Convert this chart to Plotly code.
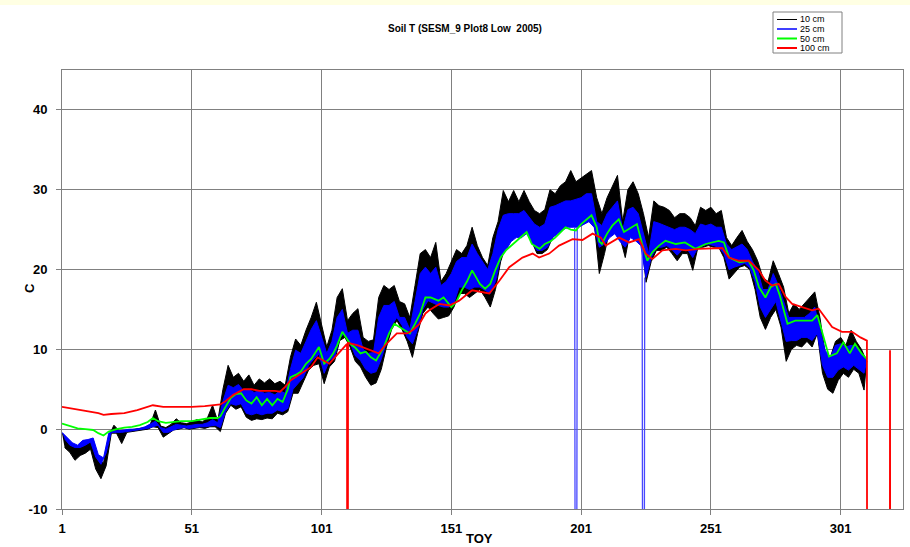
import plotly.graph_objects as go

title_text = "Soil T (SESM_9 Plot8 Low  2005)"
x_ticks = [1, 51, 101, 151, 201, 251, 301]
y_ticks = [-10, 0, 10, 20, 30, 40]
series_names = ["10 cm", "25 cm", "50 cm", "100 cm"]
series_colors = ["#000000", "#0000FF", "#00FF00", "#FF0000"]

# 10 cm: daily highs on odd days (1,3,...,311) and lows on even days (2,...,310)
t10_hi = [
    -0.5, -1.3, -2.0, -2.3, -1.5, -1.5, -1.3, -4.0, -4.2, -0.9,
    0.5, -0.2, -0.2, -0.1, 0.0, 0.1, 0.2, 0.6, 2.4, 0.4,
    0.2, 0.6, 1.3, 0.8, 0.7, 0.9, 1.2, 0.9, 1.4, 3.0,
    1.0, 5.0, 8.0, 6.5, 7.0, 6.0, 6.8, 5.5, 6.3, 5.8,
    6.3, 5.7, 6.0, 5.5, 9.0, 11.3, 10.5, 12.4, 14.0, 15.9,
    13.0, 10.3, 12.4, 16.5, 17.6, 13.6, 14.5, 15.1, 11.5, 11.0,
    11.2, 16.5, 18.0, 17.5, 18.0, 16.0, 15.7, 14.0, 18.0, 22.0,
    22.5, 21.5, 23.4, 18.5, 19.5, 21.0, 22.5, 22.0, 23.0, 25.3,
    23.0, 21.5, 20.5, 24.0, 26.0, 29.9, 28.5, 29.9, 28.5, 29.9,
    28.5, 27.4, 27.0, 27.5, 30.0, 29.5, 30.5, 31.0, 32.4, 31.0,
    31.5, 32.0, 32.4, 29.0, 27.0, 29.0, 30.5, 31.8, 26.0, 30.0,
    31.0, 29.5, 27.0, 24.0, 28.6, 28.0, 27.8, 27.4, 26.5, 27.0,
    27.0, 26.5, 25.5, 27.8, 27.4, 27.8, 27.0, 27.4, 24.0, 23.0,
    24.0, 24.9, 23.5, 22.5, 21.1, 19.0, 18.5, 21.1, 19.5, 17.8,
    14.5, 15.7, 15.0, 15.7, 16.5, 17.2, 14.0, 9.5, 9.0, 11.0,
    11.5, 10.5, 12.4, 11.0, 10.0, 8.5,
]
t10_lo = [
    -2.3, -2.9, -3.9, -3.3, -3.0, -2.5, -5.0, -6.2, -4.6, -0.5,
    -0.5, -1.8, -0.4, -0.3, -0.2, -0.1, 0.0, 0.3, 0.2, -1.0,
    -0.6, -0.1, 0.0, 0.2, 0.0, 0.1, 0.2, 0.1, 0.3, 0.3,
    -0.3, 2.0, 3.0, 2.5, 2.8, 1.5, 1.1, 1.3, 1.2, 1.4,
    1.3, 2.0, 1.8, 2.2, 4.5, 4.5, 6.0, 7.4, 8.0, 8.2,
    5.7, 7.8, 8.5, 11.1, 11.5, 10.3, 8.5, 7.8, 6.5, 5.5,
    5.8, 7.5, 10.3, 12.5, 13.6, 12.5, 11.0, 9.0, 12.0, 14.5,
    15.3, 14.5, 13.8, 14.0, 14.2, 15.3, 17.0, 17.0, 16.5, 17.0,
    17.5, 16.5, 15.3, 17.5, 21.0, 23.0, 24.0, 24.5, 24.0, 25.0,
    23.5, 22.0, 22.0, 22.5, 24.0, 25.0, 25.3, 26.0, 26.5, 26.0,
    27.0, 27.4, 26.0, 19.5, 22.0, 25.0, 25.3, 24.0, 21.5, 25.0,
    25.3, 24.5, 18.4, 21.0, 22.4, 22.4, 22.8, 22.0, 21.1, 22.0,
    22.0, 19.9, 22.8, 22.8, 23.0, 22.8, 22.8, 21.5, 18.8, 19.5,
    20.3, 20.5, 20.0, 17.5, 14.0, 12.5, 14.0, 15.0, 12.8, 8.5,
    10.0, 10.5, 10.3, 11.0, 10.3, 12.0, 7.0, 5.0, 4.5, 6.1,
    7.0, 6.5, 7.5, 7.0, 4.9,
]

# 25 cm (-99 = logger dropout)
t25_hi = [
    -0.4, -1.0, -1.7, -2.0, -1.4, -1.3, -1.1, -3.2, -3.6, -0.5,
    -0.2, -0.2, -0.1, 0.0, 0.0, 0.1, 0.3, 0.6, 1.0, 0.2,
    0.0, 0.3, 0.6, 0.5, 0.4, 0.5, 0.6, 0.6, 0.8, 1.2,
    0.8, 3.5, 5.5, 5.2, 5.6, 4.8, 5.0, 4.6, 4.8, 4.5,
    4.6, 4.3, 4.8, 4.5, 7.5, 9.9, 9.5, 11.0, 12.5, 13.6,
    11.5, 9.5, 11.0, 14.0, 15.0, 12.0, 12.4, 12.4, 10.0, 9.5,
    9.6, 14.0, 15.5, 15.5, 16.0, 14.0, 14.0, 12.5, 16.0, 19.5,
    20.3, 19.5, 20.3, 18.0, 18.5, 19.5, 21.0, 21.5, 21.5, 23.2,
    22.0, 21.0, 20.0, 22.0, 25.0, 26.8, 27.0, 27.0, 27.0, 27.4,
    26.5, 25.7, 25.3, 25.7, 27.8, 28.0, 28.3, 28.6, 28.6, -99,
    29.0, 29.5, 29.5, 26.0, 25.5, 27.0, 27.8, 28.6, 25.0, 27.5,
    27.8, 27.0, -99, 22.0, 26.0, 25.8, 25.5, 25.3, 25.0, 25.3,
    25.3, 25.0, 24.5, 25.7, 25.5, 25.7, 25.3, 25.3, 23.2, 22.5,
    22.8, 23.2, 22.5, 21.0, 19.9, 17.5, 17.5, 19.5, 18.0, 16.0,
    14.0, 14.0, 14.0, 14.0, 14.5, 15.3, 12.5, 9.9, 9.0, 10.5,
    10.7, 10.3, 10.5, 10.3, 9.5, 8.5,
]
t25_lo = [
    -1.2, -2.0, -2.3, -2.3, -2.0, -1.6, -3.5, -4.4, -3.0, -0.4,
    -0.4, -0.4, -0.3, -0.2, -0.1, 0.0, 0.1, 0.3, 0.5, -0.4,
    -0.4, -0.1, 0.1, 0.2, 0.1, 0.2, 0.3, 0.3, 0.4, 0.5,
    0.2, 2.2, 3.2, 3.0, 3.2, 2.0, 1.8, 2.0, 1.8, 2.0,
    2.0, 2.4, 2.2, 2.6, 5.0, 5.7, 6.5, 8.0, 8.8, 9.4,
    7.0, 8.6, 9.0, 11.5, 12.0, 10.8, 9.2, 8.6, 7.5, 7.0,
    7.2, 8.8, 11.0, 13.0, 14.0, 13.0, 11.5, 10.7, 12.5, 15.0,
    16.1, 15.8, 15.5, 15.3, 15.3, 15.8, 17.8, 17.8, 17.5, 17.8,
    17.8, 17.4, 17.0, 18.5, 21.5, 22.4, 23.5, 24.0, 24.0, 24.5,
    23.5, 22.4, 22.4, 22.8, 24.0, 24.5, 25.0, 25.3, 25.3, 25.3,
    25.7, 26.0, 25.3, 22.8, 23.2, 24.0, 24.5, 23.5, 22.8, 24.0,
    23.6, 23.0, 19.0, 21.5, 22.8, 22.8, 23.0, 22.5, 21.8, 22.5,
    22.5, 21.5, 22.8, 23.0, 23.2, 23.0, 22.8, 22.0, 20.0, 20.3,
    20.5, 20.8, 20.2, 18.5, 15.3, 14.0, 15.0, 16.0, 13.5, 11.0,
    11.1, 11.1, 11.5, 11.5, 11.1, 12.0, 8.0, 6.5, 6.5, 7.4,
    7.8, 7.4, 8.0, 7.5, 7.0,
]

# 50 cm
t50_day = [1, 4, 7, 10, 13, 15, 17, 19, 22, 25, 28, 31, 34, 36, 38, 41, 44, 47, 51, 55,
           58, 61, 62, 64, 66, 68, 70, 72, 74, 76, 78, 80, 82, 84, 86, 88, 89, 91, 93, 95,
           97, 100, 102, 104, 105.5, 107, 109, 112, 114, 116, 118, 120, 122, 125, 127, 129,
           131, 133, 135, 137, 139, 141, 143, 146, 148, 151, 153, 155, 157, 159, 162, 164,
           166, 168, 170, 172, 174, 176, 178, 180, 182, 185, 187, 189, 191, 193, 195, 197,
           199, 201, 203, 205, 207, 208, 209, 211, 213, 215.5, 217.5, 220.5, 222.5, 224.5,
           226.5, 228.5, 231, 233.5, 237.5, 241, 245, 249, 254, 256, 258, 262, 265.5, 267.5,
           269.5, 272, 274, 276, 277.5, 279, 280.5, 283.5, 287, 290, 292, 294, 296.5, 299.5,
           302, 304.5, 306.5, 309, 311]
t50_val = [0.7, 0.4, 0.1, 0.0, -0.1, -0.5, -0.8, -0.3, 0.0, 0.2, 0.3, 0.5, 0.9, 1.4, 1.0, 0.8, 0.9, 1.0, 1.0, 1.2,
           1.4, 1.4, 1.6, 2.8, 3.9, 4.4, 4.5, 3.6, 3.2, 4.0, 3.0, 3.8, 3.0, 3.8, 3.4, 5.0, 6.5, 6.8, 7.2, 8.2,
           8.8, 10.3, 8.2, 8.8, 9.5, 10.5, 12.2, 10.7, 10.2, 9.5, 9.7, 9.0, 8.6, 10.3, 12.0, 13.2,
           12.8, 12.4, 12.0, 13.2, 14.5, 16.5, 16.5, 16.1, 16.5, 15.3, 16.0, 17.4, 18.5, 19.9, 18.2, 17.6,
           18.2, 20.0, 21.5, 22.4, 23.0, 23.6, 24.2, 24.7, 23.2, 22.6, 23.2, 23.5, 24.0, 24.6, 25.3, 25.0,
           24.9, 25.7, 26.2, 26.8, 25.3, 23.5, 23.2, 24.5, 25.5, 26.3, 24.7, 25.3, 25.7, 23.2,
           21.1, 22.2, 23.0, 23.6, 23.2, 23.4, 22.6, 23.2, 23.6, 23.4, 21.5, 20.9, 21.1, 19.9,
           17.8, 16.5, 17.8, 18.2, 16.8, 15.0, 13.2, 13.6, 13.6, 13.6, 14.3, 12.0, 9.1, 9.5,
           10.9, 9.5, 10.7, 9.5, 8.8]

# 100 cm (-99 = logger dropout)
t100_day = [1, 5, 10, 15, 17, 20, 25, 30, 34, 36, 40, 45, 51, 56, 62, 64, 67, 71, 74, 77,
            80, 83, 85, 87, 89, 93, 97, 99.5, 102, 104, 107, 110.8, 111, 111.2, 115, 118, 120,
            123, 126, 130, 134, 136, 138.7, 141, 142.5, 146.4, 150.2, 154, 159, 163, 165.6,
            169.5, 173.3, 178.4, 182.3, 184.8, 188.7, 192.5, 197.7, 201.5, 205.4, 208.6, 210.5,
            215.6, 219.5, 223.3, 225.9, 228.4, 232.3, 237.4, 241.3, 246.4, 251.5, 255.4, 257.9,
            261.8, 265.6, 269.5, 272, 274.6, 277.1, 279.7, 282.3, 286.1, 290, 292.5, 295.1,
            297.7, 301.5, 305.4, 308.6, 311.1, 311.3, 319.8, 320, 320.2]
t100_val = [2.8, 2.6, 2.3, 2.0, 1.8, 1.9, 2.0, 2.4, 2.8, 3.0, 2.8, 2.8, 2.8, 2.9, 3.1, 3.5, 4.3, 5.0, 5.0, 4.8,
            4.8, 4.8, 4.7, 5.3, 6.1, 7.0, 7.8, 9.0, 8.6, 8.2, 9.3, 10.7, -99, 10.8, 10.5, 10.1, 9.9,
            9.5, 10.7, 12.0, 12.0, 12.4, 13.2, 14.5, 14.9, 15.7, 15.5, 16.1, 17.4, 17.2, 17.0,
            18.6, 20.3, 21.5, 22.0, 21.5, 22.0, 23.0, 23.8, 23.7, 24.5, 24.0, 23.0,
            24.0, 23.4, 23.8, 22.0, 21.3, 22.4, 22.6, 22.4, 22.6, 22.7, 22.7, 21.5,
            21.1, 21.1, 19.9, 18.6, 18.0, 18.2, 16.6, 15.7, 15.3, 14.9, 15.1, 14.0,
            12.8, 12.2, 12.2, 11.5, 11.1, -99, -99, 9.9, -99]

MISSING = -50  # values below this are logger dropouts


def band(hi, lo):
    """Closed outline: highs left->right, then lows right->left (dropouts skipped)."""
    top = [(1 + 2 * i, v) for i, v in enumerate(hi) if v > MISSING]
    bot = [(2 + 2 * i, v) for i, v in enumerate(lo) if v > MISSING]
    pts = top + bot[::-1]
    return [p[0] for p in pts], [p[1] for p in pts]


def dropouts(hi, lo):
    """Short drop to the missing-value code and back, for each dropout in the highs."""
    xs, ys = [], []
    for i, v in enumerate(hi):
        if v <= MISSING:
            d = 1 + 2 * i
            xs += [d - 0.5, d, d + 0.5, None]
            ys += [lo[i - 1], v, lo[i], None]
    return xs, ys


fig = go.Figure()
for hi, lo, col in [(t10_hi, t10_lo, series_colors[0]), (t25_hi, t25_lo, series_colors[1])]:
    bx, by = band(hi, lo)
    fig.add_trace(go.Scatter(x=bx, y=by, mode="lines", fill="toself", fillcolor=col,
                             line=dict(color=col, width=1), hoverinfo="skip"))
dx, dy = dropouts(t25_hi, t25_lo)
fig.add_trace(go.Scatter(x=dx, y=dy, mode="lines", connectgaps=False,
                         line=dict(color="#4848FF", width=1.3)))
fig.add_trace(go.Scatter(x=t50_day, y=t50_val, mode="lines",
                         line=dict(color=series_colors[2], width=1.8)))
fig.add_trace(go.Scatter(x=t100_day, y=t100_val, mode="lines",
                         line=dict(color=series_colors[3], width=1.8)))

font_main = "Arial, 'Liberation Sans', sans-serif"
grid_col = "#808080"


# plot area in pixels: x 62..903, y 70..509
def px(x):
    return (x - 62) / 841


def py(y):
    return (509 - y) / 439


shapes = [dict(type="rect", xref="paper", yref="paper",
               x0=-0.1, x1=1.1, y0=py(5), y1=1.25,
               fillcolor="#FFFFE3", line=dict(width=0), layer="below"),
          dict(type="rect", xref="paper", yref="paper",
               x0=px(773), x1=px(842), y0=py(53), y1=py(12),
               fillcolor="white", line=dict(color="#808080", width=1))]
annotations = [
    dict(text=title_text, xref="paper", yref="paper", x=px(465), y=py(28),
         showarrow=False, xanchor="center", yanchor="middle",
         font=dict(size=10, family=font_main, weight="bold")),
    dict(text="C", xref="paper", yref="paper", x=px(29), y=py(288), showarrow=False,
         textangle=-90, xanchor="center", yanchor="middle",
         font=dict(size=13, family=font_main, weight="bold")),
    dict(text="TOY", xref="paper", yref="paper", x=px(479), y=py(538), showarrow=False,
         xanchor="center", yanchor="middle",
         font=dict(size=13, family=font_main, weight="bold")),
]
legend_rows = [19.5, 29, 38.5, 48]
legend_widths = [1, 1.5, 2, 2]
for name, col, yrow, w in zip(series_names, series_colors, legend_rows, legend_widths):
    shapes.append(dict(type="line", xref="paper", yref="paper",
                       x0=px(777), x1=px(797), y0=py(yrow), y1=py(yrow),
                       line=dict(color=col, width=w)))
    annotations.append(dict(text=name, xref="paper", yref="paper", x=px(798), y=py(yrow),
                            showarrow=False, xanchor="left", yanchor="middle",
                            font=dict(size=9, family=font_main)))

fig.update_layout(
    width=910, height=547,
    margin=dict(l=62, r=7, t=70, b=38, autoexpand=False),
    paper_bgcolor="white", plot_bgcolor="white",
    font=dict(family=font_main, color="black"),
    showlegend=False,
    xaxis=dict(range=[1, 325], tickmode="array", tickvals=x_ticks,
               ticktext=[str(t) for t in x_ticks], automargin=False,
               showgrid=True, gridcolor=grid_col, gridwidth=1,
               showline=True, linecolor=grid_col, linewidth=1, mirror=True,
               ticks="outside", ticklen=5, tickcolor=grid_col,
               tickfont=dict(size=13, family=font_main, weight="bold"),
               zeroline=False, ticklabelstandoff=2),
    yaxis=dict(range=[-10, 45], tickmode="array", tickvals=y_ticks,
               ticktext=[str(t) for t in y_ticks], automargin=False,
               showgrid=True, gridcolor=grid_col, gridwidth=1,
               showline=True, linecolor=grid_col, linewidth=1, mirror=True,
               ticks="outside", ticklen=5, tickcolor=grid_col,
               tickfont=dict(size=13, family=font_main, weight="bold"),
               zeroline=False, ticklabelstandoff=6),
    shapes=shapes,
    annotations=annotations,
)

# remove the browser's default page margin so the figure sits at the top-left corner
fig.write_html("out.html", config={"displayModeBar": False},
               post_script="document.body.style.margin='0px';document.body.style.overflow='hidden';")
